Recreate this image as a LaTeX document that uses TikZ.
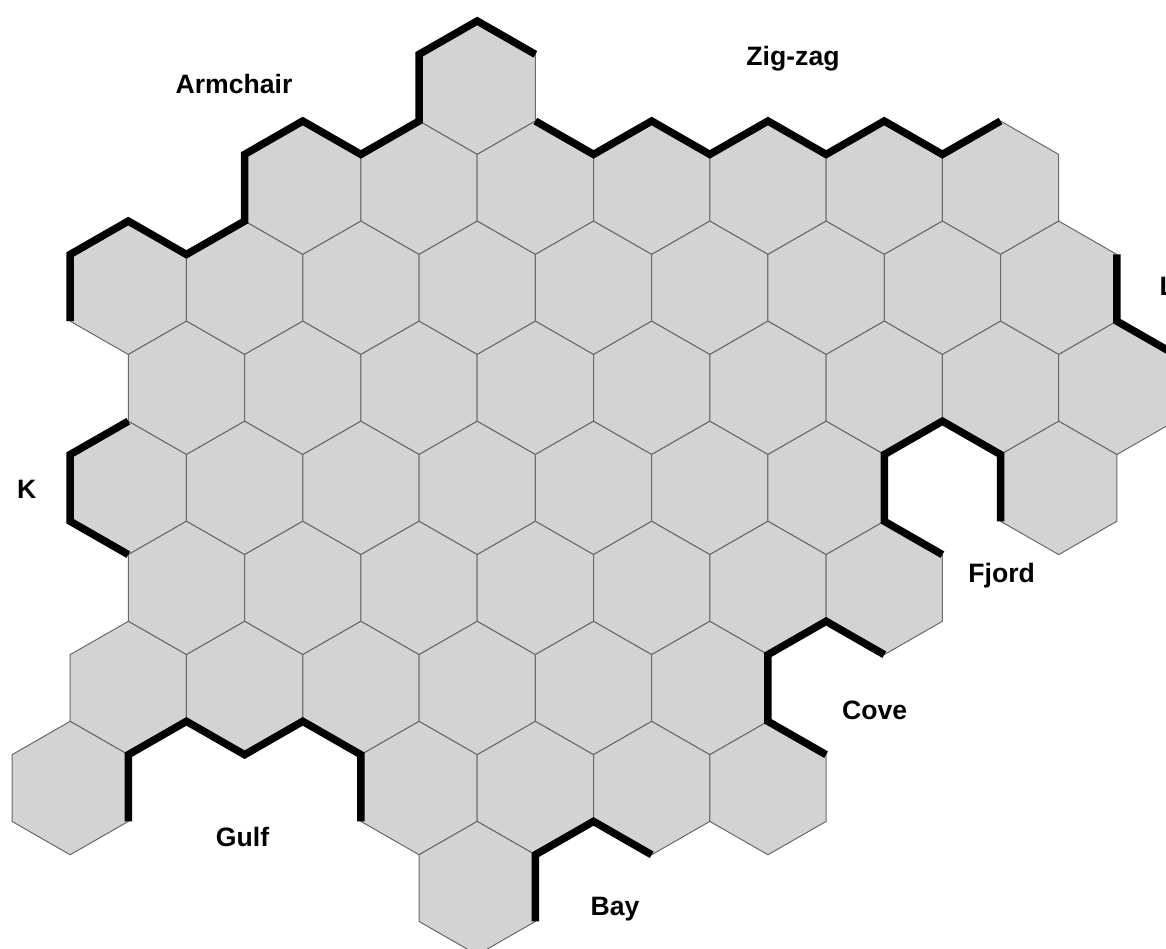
\documentclass[tikz,border=0pt]{standalone}
\usepackage{fontspec}
\setmainfont{Liberation Sans}
\definecolor{hexfill}{RGB}{211,211,211}
\definecolor{hexline}{RGB}{105,105,105}
\tikzset{
  hexcell/.style={fill=hexfill, draw=hexline, line width=1pt, line join=miter},
  coast/.style={draw=black, line width=7.5pt, line join=miter, line cap=butt},
  lbl/.style={font=\bfseries\fontsize{26.6}{30}\selectfont, inner sep=0pt, anchor=base},
}
\begin{document}
\begin{tikzpicture}[x=1pt,y=-1pt]
\useasboundingbox (0,0) rectangle (1166,949);
\clip (0,0) rectangle (1166,949);
\def\hw{58.15}\def\hr{66.7}\def\hh{33.35}
\foreach \r/\ks in {0/{3},1/{1,2,3,4,5,6,7},2/{0,1,2,3,4,5,6,7,8},3/{0,1,2,3,4,5,6,7,8},4/{0,1,2,3,4,5,6,8},5/{0,1,2,3,4,5,6},6/{0,1,2,3,4,5},7/{-1,2,3,4,5},8/{3}}{
  \foreach \k in \ks {
    \pgfmathsetmacro\cx{128.3+116.3*\k+58.15*mod(\r,2)}
    \pgfmathsetmacro\cy{87.7+100.05*\r}
    \coordinate (h-\r-\k-t)  at (\cx,\cy-\hr);
    \coordinate (h-\r-\k-ur) at (\cx+\hw,\cy-\hh);
    \coordinate (h-\r-\k-lr) at (\cx+\hw,\cy+\hh);
    \coordinate (h-\r-\k-b)  at (\cx,\cy+\hr);
    \coordinate (h-\r-\k-ll) at (\cx-\hw,\cy+\hh);
    \coordinate (h-\r-\k-ul) at (\cx-\hw,\cy-\hh);
    \path[hexcell] (h-\r-\k-t) -- (h-\r-\k-ur) -- (h-\r-\k-lr) -- (h-\r-\k-b) -- (h-\r-\k-ll) -- (h-\r-\k-ul) -- cycle;
  }
}
% Armchair
\draw[coast] (h-2-0-ll) -- (h-2-0-ul) -- (h-2-0-t) -- (h-2-0-ur) -- (h-2-1-t) -- (h-1-1-ul) -- (h-1-1-t) -- (h-1-1-ur) -- (h-0-3-ll) -- (h-0-3-ul) -- (h-0-3-t) -- (h-0-3-ur);
% Zig-zag
\draw[coast] (h-0-3-lr) -- (h-1-3-ur) -- (h-1-4-t) -- (h-1-4-ur) -- (h-1-5-t) -- (h-1-5-ur) -- (h-1-6-t) -- (h-1-6-ur) -- (h-1-7-t);
% L
\draw[coast] (h-2-8-ur) -- (h-2-8-lr) -- (h-3-8-ur);
% Fjord
\draw[coast] (h-5-6-ur) -- (h-5-6-t) -- (h-4-6-ur) -- (h-3-6-lr) -- (h-3-7-b) -- (h-4-8-ll);
% Cove
\draw[coast] (h-5-6-b) -- (h-5-6-ll) -- (h-5-5-b) -- (h-6-5-lr) -- (h-7-5-ur);
% Bay
\draw[coast] (h-7-4-b) -- (h-7-4-ll) -- (h-7-3-b) -- (h-8-3-lr);
% Gulf
\draw[coast] (h-7--1-lr) -- (h-7--1-ur) -- (h-6-0-lr) -- (h-6-1-b) -- (h-6-1-lr) -- (h-6-2-b) -- (h-7-2-ll);
% K
\draw[coast] (h-4-0-t) -- (h-4-0-ul) -- (h-4-0-ll) -- (h-4-0-b);
% labels
\node[lbl] (lArm) at (234,94) {Armchair};
\node[lbl] (lZig) at (793,65.5) {Zig-zag};
\node[lbl, anchor=base west] (lL) at (1159.5,295.5) {L};
\node[lbl] (lK) at (26.7,498) {K};
\node[lbl] (lFjord) at (1001.7,582) {Fjord};
\node[lbl] (lCove) at (874.7,719) {Cove};
\node[lbl] (lGulf) at (242.5,846.5) {Gulf};
\node[lbl] (lBay) at (615,915) {Bay};
\end{tikzpicture}
\end{document}
